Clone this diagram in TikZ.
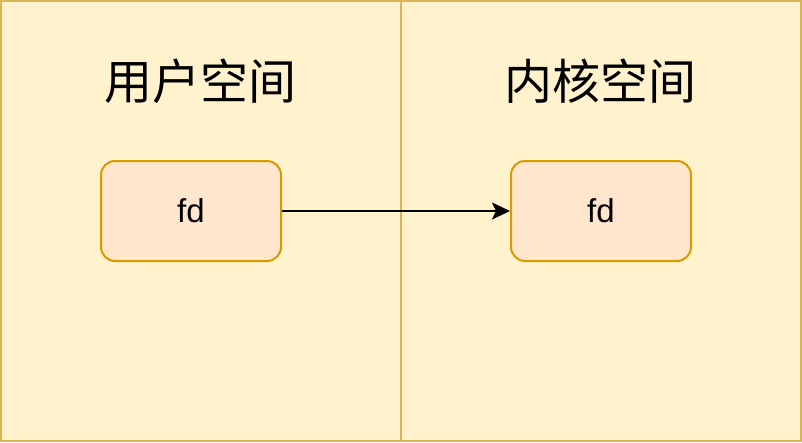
\documentclass[tikz,border=0pt]{standalone}
\usepackage{fontspec}
\setmainfont{Liberation Sans}
\newfontfamily\cjk{Noto Sans CJK SC}
\usetikzlibrary{arrows.meta}
\definecolor{panelfill}{HTML}{FFF2CC}
\definecolor{panelline}{HTML}{D6B656}
\definecolor{boxfill}{HTML}{FFE6CC}
\definecolor{boxline}{HTML}{D79B00}
\tikzset{
  panel/.style={draw=panelline, fill=panelfill, line width=2pt},
  fdbox/.style={draw=boxline, fill=boxfill, line width=2pt, rounded corners=14pt,
    minimum width=180pt, minimum height=100pt, inner sep=0pt, font=\fontsize{33}{40}\selectfont},
  title/.style={font=\cjk\fontsize{48}{58}\selectfont, inner sep=0pt},
  conn/.style={line width=2pt, -{Stealth[length=18pt,width=17pt,inset=4pt]}}
}
\begin{document}
\begin{tikzpicture}[x=1pt,y=-1pt]
\useasboundingbox (0,0) rectangle (802,442);
\draw[panel] (1,1) rectangle (401,441);
\draw[panel] (401,1) rectangle (801,441);
\node[title] (t1) at (200,81) {用户空间};
\node[title] (t2) at (600,81) {内核空间};
\node[fdbox] (a) at (191,211) {fd};
\node[fdbox] (b) at (601,211) {fd};
\draw[conn] (a.east) -- (b.west);
\end{tikzpicture}
\end{document}
